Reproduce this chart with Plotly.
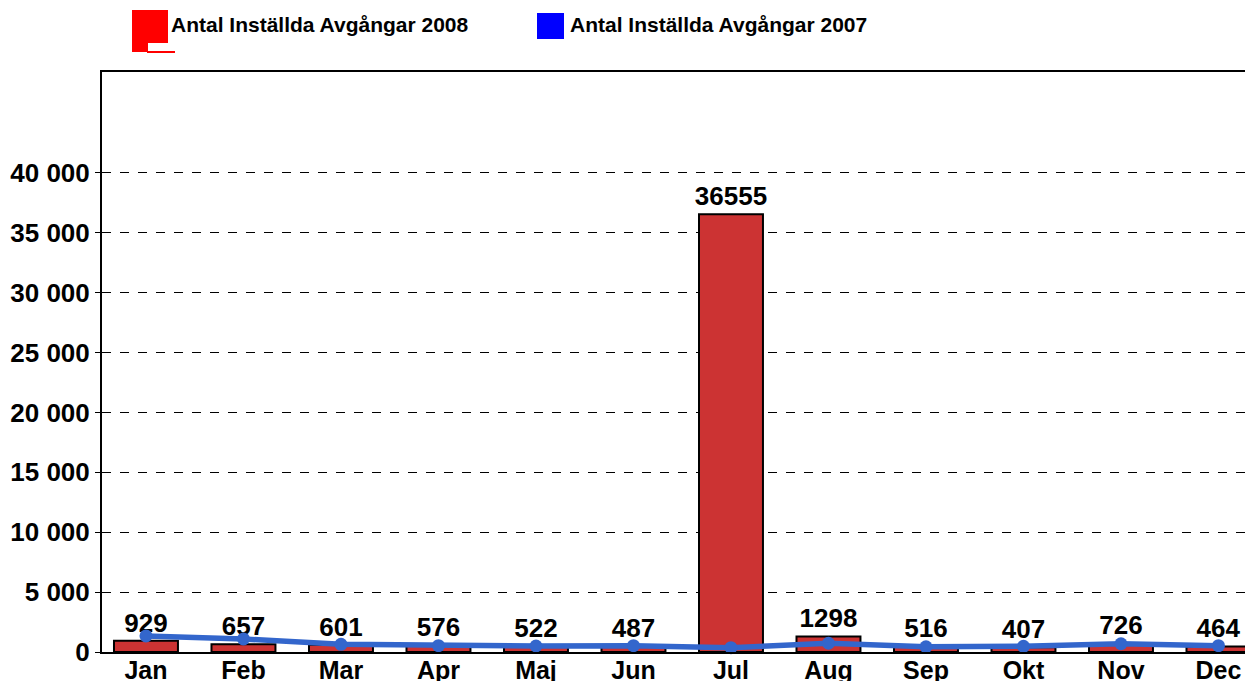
import plotly.graph_objects as go

months = ["Jan", "Feb", "Mar", "Apr", "Maj", "Jun", "Jul", "Aug", "Sep", "Okt", "Nov", "Dec"]
cancel_2008 = [929, 657, 601, 576, 522, 487, 36555, 1298, 516, 407, 726, 464]
cancel_2007 = [1340, 1090, 640, 530, 500, 530, 360, 730, 440, 475, 690, 530]
y_ticks = [0, 5000, 10000, 15000, 20000, 25000, 30000, 35000, 40000]
y_tick_labels = ["0", "5 000", "10 000", "15 000", "20 000", "25 000", "30 000", "35 000", "40 000"]
legend_names = ["Antal Inställda Avgångar 2008", "Antal Inställda Avgångar 2007"]

# page body has an 8px margin; compensate so the plot area lands at the reference position
OFF = 8
PLOT_L, PLOT_T, PLOT_R, PLOT_B = 102, 72, 1253, 652
W, H = 1253 - OFF, 681 - OFF
ML, MT = PLOT_L - OFF, PLOT_T - OFF
MR = OFF + W - PLOT_R
MB = OFF + H - PLOT_B
PW, PH = PLOT_R - PLOT_L, PLOT_B - PLOT_T

def px_x(p):
    return (p - PLOT_L) / PW

def px_y(p):
    return (PLOT_B - p) / PH

FONT = "Liberation Sans, Arial, sans-serif"
xs = list(range(len(months)))

fig = go.Figure()
fig.add_trace(go.Bar(
    x=xs, y=cancel_2008, width=0.656,
    marker=dict(color="#CC3333", line=dict(color="black", width=2)),
    text=[str(v) for v in cancel_2008], textposition="outside", constraintext="none",
    textfont=dict(family=FONT, size=26, color="black", weight="bold"),
    cliponaxis=False, name=legend_names[0], showlegend=False,
))
fig.add_trace(go.Scatter(
    x=xs, y=cancel_2007, mode="lines+markers",
    line=dict(color="#3366CC", width=5.5),
    marker=dict(color="#3366CC", size=13),
    name=legend_names[1], showlegend=False, cliponaxis=False,
))

fig.update_layout(
    width=W, height=H,
    margin=dict(l=ML, r=MR, t=MT, b=MB, pad=0, autoexpand=False),
    paper_bgcolor="white", plot_bgcolor="white",
    xaxis=dict(
        range=[-0.451, 11.354], tickmode="array", tickvals=xs, ticktext=months,
        showgrid=False, zeroline=False, showline=True, linecolor="black", linewidth=2,
        mirror=True, ticks="", ticklen=0, ticklabelstandoff=-5, automargin=False,
        tickfont=dict(family=FONT, size=25, color="black", weight="bold"),
    ),
    yaxis=dict(
        range=[0, 48430], tickmode="array", tickvals=y_ticks, ticktext=y_tick_labels,
        showgrid=True, gridcolor="black", gridwidth=1, griddash="dash",
        zeroline=False, showline=True, linecolor="black", linewidth=2, automargin=False,
        ticks="outside", ticklen=5, tickcolor="black", tickwidth=1,
        tickfont=dict(family=FONT, size=26, color="black", weight="bold"),
    ),
)

# custom legend
shapes = [
    dict(type="rect", xref="paper", yref="paper", x0=px_x(132), x1=px_x(168), y0=px_y(43), y1=px_y(10),
         fillcolor="#FF0000", line=dict(width=0)),
    dict(type="rect", xref="paper", yref="paper", x0=px_x(132), x1=px_x(148), y0=px_y(52), y1=px_y(42),
         fillcolor="#FF0000", line=dict(width=0)),
    dict(type="rect", xref="paper", yref="paper", x0=px_x(147), x1=px_x(175), y0=px_y(53), y1=px_y(51),
         fillcolor="#FF0000", line=dict(width=0)),
    dict(type="rect", xref="paper", yref="paper", x0=px_x(537), x1=px_x(564), y0=px_y(39), y1=px_y(13),
         fillcolor="#0000FF", line=dict(width=0)),
]
fig.update_layout(shapes=shapes)
for name, x0 in zip(legend_names, [169, 568]):
    fig.add_annotation(
        text=name, xref="paper", yref="paper", x=px_x(x0), y=px_y(24),
        xanchor="left", yanchor="middle", showarrow=False,
        font=dict(family=FONT, size=21, color="black", weight="bold"),
    )

fig.write_html("out.html")
